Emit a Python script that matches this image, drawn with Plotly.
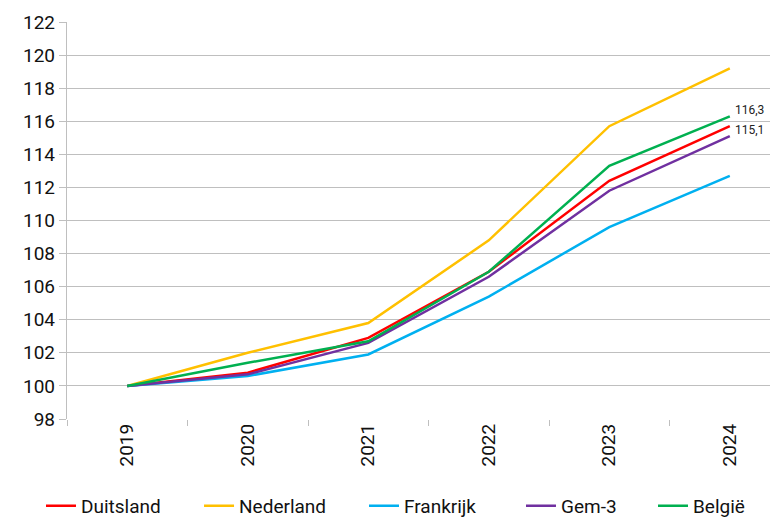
import plotly.graph_objects as go

years = ["2019", "2020", "2021", "2022", "2023", "2024"]
duitsland = [100.0, 100.8, 102.9, 106.9, 112.4, 115.7]
nederland = [100.0, 102.0, 103.8, 108.8, 115.7, 119.2]
frankrijk = [100.0, 100.6, 101.9, 105.4, 109.6, 112.7]
gem3 = [100.0, 100.7, 102.6, 106.6, 111.8, 115.1]
belgie = [100.0, 101.4, 102.7, 106.9, 113.3, 116.3]

series = [
    ("Duitsland", duitsland, "#ff0000"),
    ("Nederland", nederland, "#ffc000"),
    ("Frankrijk", frankrijk, "#00b0f0"),
    ("Gem-3", gem3, "#7030a0"),
    ("België", belgie, "#00b050"),
]
legend_x = [-0.0366, 0.1857, 0.4177, 0.6385, 0.8242]

fig = go.Figure()
legend_layout = {}
for i, (name, vals, col) in enumerate(series):
    lg = "legend" if i == 0 else f"legend{i + 1}"
    fig.add_trace(go.Scatter(x=years, y=vals, name=name, mode="lines", legend=lg,
                             line=dict(color=col, width=2.5)))
    legend_layout[lg] = dict(orientation="h", x=legend_x[i], xanchor="left",
                             yref="container", y=0.061, yanchor="top",
                             font=dict(size=19), itemwidth=30,
                             bgcolor="rgba(0,0,0,0)")

last = len(years) - 1
for vals in (belgie, gem3):
    fig.add_annotation(x=last, y=vals[-1], xref="x", yref="y",
                       text=f"{vals[-1]:.1f}".replace(".", ","),
                       showarrow=False, xanchor="left", yanchor="bottom",
                       xshift=3, yshift=-3, font=dict(size=12, color="#222222"))

# the page body adds an 8px offset, so the figure is 8px smaller than the window
fig.update_layout(
    width=770, height=510,
    margin=dict(l=59, r=0, t=14, b=99),
    paper_bgcolor="white", plot_bgcolor="white",
    font=dict(family="Roboto, sans-serif", size=19, color="#111111"),
    showlegend=True,
    xaxis=dict(type="category", range=[-0.5, 5.4], tickangle=-90, automargin=False,
               showgrid=False, showline=False, ticks="outside", tickson="boundaries",
               ticklen=6, tickcolor="#bfbfbf", tickfont=dict(size=19)),
    yaxis=dict(range=[98, 122], dtick=2, tick0=98, showgrid=True, gridcolor="#bfbfbf",
               gridwidth=1.3, showline=True, linecolor="#bfbfbf", linewidth=1.3,
               automargin=False,
               ticks="outside", ticklen=7, tickcolor="#bfbfbf", zeroline=False,
               tickfont=dict(size=19)),
    **legend_layout,
)

fig.write_html("out.html")
